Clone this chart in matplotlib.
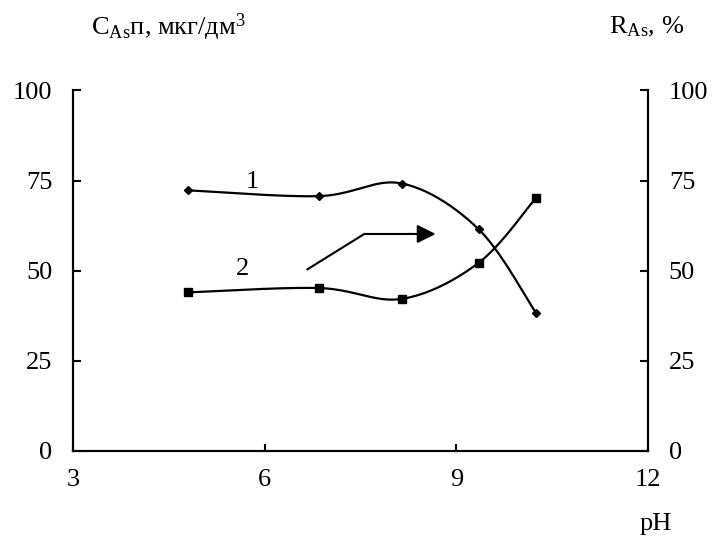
import numpy as np
import matplotlib
matplotlib.use('Agg')
import matplotlib.pyplot as plt

plt.rcParams['font.family'] = ['Liberation Serif', 'DejaVu Serif']
plt.rcParams['mathtext.fontset'] = 'custom'
plt.rcParams['mathtext.rm'] = 'Liberation Serif'
plt.rcParams['mathtext.it'] = 'Liberation Serif:italic'

ph = [4.8, 6.85, 8.15, 9.35, 10.25]
c_as = [72.3, 70.7, 74.2, 61.5, 38.2]   # curve 1, left axis
r_as = [44.0, 45.2, 42.2, 52.2, 70.3]   # curve 2, right axis

x_ticks = [3, 6, 9, 12]
y_ticks = [0, 25, 50, 75, 100]


def smooth(x, y, sx=63.9, sy=3.61, n=40):
    # Excel-like smoothed line (Catmull-Rom through the points)
    p = np.column_stack([np.array(x) * sx, np.array(y) * sy])
    p = np.vstack([p[0], p, p[-1]])
    out = []
    for i in range(1, len(p) - 2):
        p0, p1, p2, p3 = p[i - 1], p[i], p[i + 1], p[i + 2]
        c1 = p1 + (p2 - p0) / 6
        c2 = p2 - (p3 - p1) / 6
        t = np.linspace(0, 1, n)[:, None]
        seg = ((1 - t) ** 3) * p1 + 3 * ((1 - t) ** 2) * t * c1 \
            + 3 * (1 - t) * t ** 2 * c2 + t ** 3 * p2
        out.append(seg)
    out = np.vstack(out)
    return out[:, 0] / sx, out[:, 1] / sy


fs = 19

fig = plt.figure(figsize=(7.13, 5.39), dpi=100)
ax = fig.add_axes([0.1024, 0.1633, 0.8064, 0.6688])
ax2 = ax.twinx()

xs, ys = smooth(ph, c_as)
ax.plot(xs, ys, color='black', lw=1.6)
ax.plot(ph, c_as, 'D', color='black', ms=4)

xs, ys = smooth(ph, r_as)
ax2.plot(xs, ys, color='black', lw=1.6)
ax2.plot(ph, r_as, 's', color='black', ms=5.5)

for a in (ax, ax2):
    a.set_xlim(3, 12)
    a.set_ylim(0, 100)
    a.set_yticks(y_ticks)
    for s in a.spines.values():
        s.set_linewidth(1.5)
    a.spines['top'].set_visible(False)

ax.set_xticks(x_ticks)
ax.tick_params(axis='x', direction='in', length=5, width=1.5,
               labelsize=fs, pad=13)
ax.tick_params(axis='y', direction='in', length=5.5, width=1.5,
               labelsize=fs, pad=15)
ax2.tick_params(axis='y', direction='in', length=5.5, width=1.5,
                labelsize=fs, pad=15)

ax.text(5.8, 74.5, '1', fontsize=fs, ha='center', va='center')
ax.text(5.65, 50.4, '2', fontsize=fs, ha='center', va='center')
ax.plot([6.67, 7.56, 8.3], [50.4, 60.2, 60.2], color='black', lw=1.5)
ax.annotate('', xy=(8.72, 60.2), xytext=(8.2, 60.2),
            arrowprops=dict(arrowstyle='-|>', color='black', lw=1.5,
                            mutation_scale=28))

fig.text(91 / 713, 1 - 27 / 539,
         r'C$_{\mathregular{As}}$п, мкг/дм$^{\mathregular{3}}$',
         fontsize=fs, ha='left', va='center')
fig.text(684 / 713, 1 - 27 / 539, r'R$_{\mathregular{As}}$, %',
         fontsize=fs, ha='right', va='center')
fig.text(656 / 713, 1 - 524 / 539, 'pH', fontsize=fs,
         ha='center', va='center')

fig.savefig('out.png', dpi=100)
